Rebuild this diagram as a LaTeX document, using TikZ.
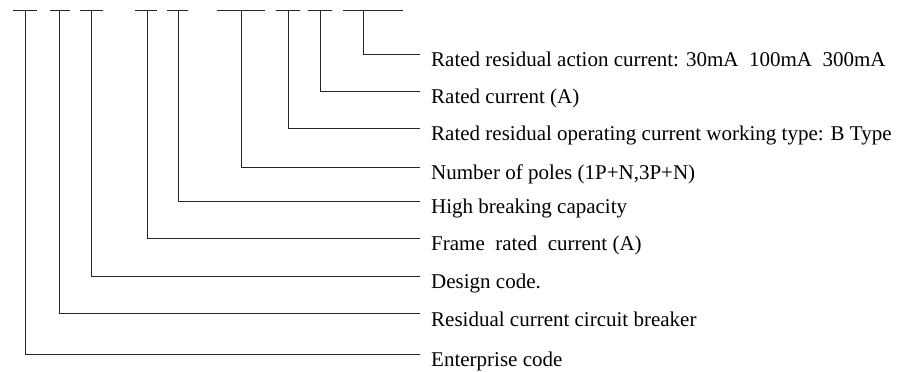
\documentclass[tikz,border=0pt]{standalone}
\usepackage{fontspec}
\setmainfont{Liberation Serif}
\begin{document}
\begin{tikzpicture}[x=1pt,y=-1pt,
  lbl/.style={anchor=base west,inner sep=0pt,font=\fontsize{21}{24}\selectfont},
  ln/.style={line width=0.8pt,color=black!85}]
\useasboundingbox (0,0) rectangle (903,372);
% label texts
\node[lbl] (t1) at (431,66) {Rated residual action current: 30mA\ \ 100mA\ \ 300mA};
\node[lbl] (t2) at (431,103) {Rated current (A)};
\node[lbl] (t3) at (431,140) {Rated residual operating current working type: B Type};
\node[lbl] (t4) at (431,179) {Number of poles (1P+N,3P+N)};
\node[lbl] (t5) at (431,213) {High breaking capacity};
\node[lbl] (t6) at (431,250) {Frame\ \ rated\ \ current (A)};
\node[lbl] (t7) at (431,288) {Design code.};
\node[lbl] (t8) at (431,326) {Residual current circuit breaker};
\node[lbl] (t9) at (431,366) {Enterprise code};
% line end points
\foreach \i/\y in {1/54,2/91,3/128,4/167,5/201,6/238,7/276,8/313,9/354}
  \coordinate (e\i) at (420,\y);
% top bars: left, right, stem x
\foreach \i/\l/\r/\s in {9/13/37/25,8/50/70/59,7/80/103/91,6/135/157/147,5/167/188/178,4/217/265/241,3/276/300/288,2/308/332/320,1/343/403/363}{
  \coordinate (a\i) at (\l,10);
  \coordinate (b\i) at (\r,10);
  \coordinate (s\i) at (\s,10);
  \draw[ln] (a\i) -- (b\i);
  \draw[ln] (s\i) |- (e\i);
}
\end{tikzpicture}
\end{document}
